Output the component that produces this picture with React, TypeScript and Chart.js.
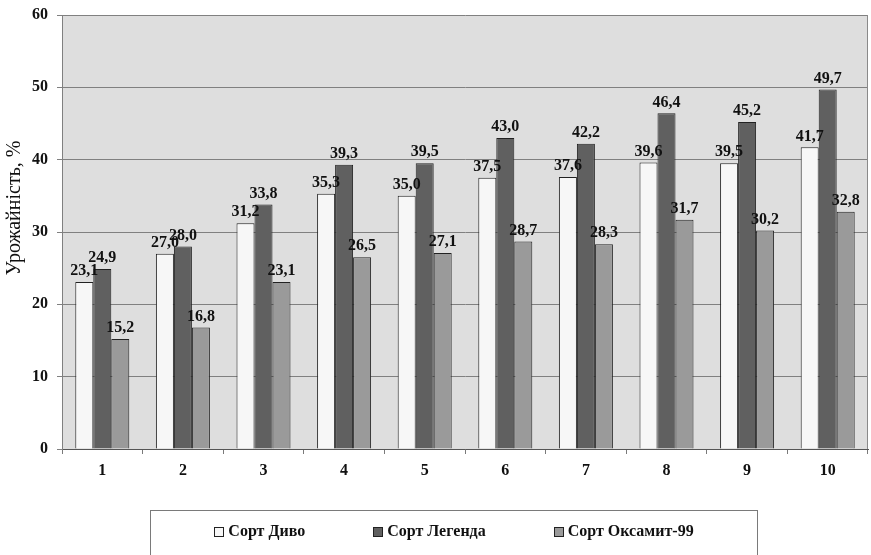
import React, { useEffect, useRef } from "react";
import { Chart, registerables } from "chart.js";

Chart.register(...registerables);

const categories = ["1", "2", "3", "4", "5", "6", "7", "8", "9", "10"];
const seriesNames = ["Сорт Диво", "Сорт Легенда", "Сорт Оксамит-99"];
const divo = [23.1, 27.0, 31.2, 35.3, 35.0, 37.5, 37.6, 39.6, 39.5, 41.7];
const legenda = [24.9, 28.0, 33.8, 39.3, 39.5, 43.0, 42.2, 46.4, 45.2, 49.7];
const oksamyt = [15.2, 16.8, 23.1, 26.5, 27.1, 28.7, 28.3, 31.7, 30.2, 32.8];
const yTitle = "Урожайність, %";

const barColors = ["#f7f7f7", "#606060", "#9a9a9a"];
const SERIF = "'Liberation Serif', 'Times New Roman', serif";

const fmt = (v: number) => v.toFixed(1).replace(".", ",");

// plot background and frame
const plotBackground = {
  id: "plotBackground",
  beforeDraw(chart: any) {
    const { ctx, chartArea: a } = chart;
    ctx.save();
    ctx.fillStyle = "#dedede";
    ctx.fillRect(a.left, a.top, a.right - a.left, a.bottom - a.top);
    ctx.restore();
  },
  afterDraw(chart: any) {
    const { ctx, chartArea: a } = chart;
    ctx.save();
    ctx.strokeStyle = "#8a8a8a";
    ctx.lineWidth = 1;
    ctx.beginPath();
    ctx.moveTo(Math.round(a.right) - 0.5, a.top);
    ctx.lineTo(Math.round(a.right) - 0.5, a.bottom);
    ctx.stroke();
    ctx.restore();
  },
};

// rotated y-axis caption, sitting a little above the axis middle
const yCaption = {
  id: "yCaption",
  afterDraw(chart: any) {
    const { ctx, chartArea: a } = chart;
    ctx.save();
    ctx.font = `20px ${SERIF}`;
    ctx.fillStyle = "#111";
    ctx.textAlign = "center";
    ctx.textBaseline = "middle";
    ctx.translate(15, (a.top + a.bottom) / 2 - 24);
    ctx.rotate(-Math.PI / 2);
    ctx.fillText(yTitle, 0, 0);
    ctx.restore();
  },
};

// value labels above each bar
const valueLabels = {
  id: "valueLabels",
  afterDatasetsDraw(chart: any) {
    const { ctx } = chart;
    ctx.save();
    ctx.font = `bold 16px ${SERIF}`;
    ctx.fillStyle = "#111";
    ctx.textAlign = "center";
    ctx.textBaseline = "bottom";
    chart.data.datasets.forEach((ds: any, di: number) => {
      const meta = chart.getDatasetMeta(di);
      meta.data.forEach((bar: any, i: number) => {
        ctx.fillText(fmt(ds.data[i]), bar.x, bar.y - 3);
      });
    });
    ctx.restore();
  },
};

// boxed legend under the axis
const boxedLegend = {
  id: "boxedLegend",
  afterDraw(chart: any) {
    const { ctx } = chart;
    const boxL = 150.5, boxR = 757.5, boxT = 510.5;
    ctx.save();
    ctx.strokeStyle = "#7a7a7a";
    ctx.lineWidth = 1;
    ctx.strokeRect(boxL, boxT, boxR - boxL, 60);
    ctx.font = `bold 16px ${SERIF}`;
    ctx.textBaseline = "middle";
    ctx.textAlign = "left";
    const sq = 9, sqGap = 5, gap = 68;
    const items = chart.data.datasets.map((ds: any) => ({
      label: ds.label,
      color: ds.backgroundColor,
      w: sq + sqGap + ctx.measureText(ds.label).width,
    }));
    const total = items.reduce((s: number, it: any) => s + it.w, 0) + gap * (items.length - 1);
    let x = (boxL + boxR) / 2 - total / 2;
    const cy = 532;
    items.forEach((it: any) => {
      ctx.fillStyle = it.color;
      ctx.fillRect(Math.round(x) + 0.5, cy - 4.5, sq, sq);
      ctx.strokeStyle = "#222";
      ctx.strokeRect(Math.round(x) + 0.5, cy - 4.5, sq, sq);
      ctx.fillStyle = "#111";
      ctx.fillText(it.label, x + sq + sqGap, cy);
      x += it.w + gap;
    });
    ctx.restore();
  },
};

export default function App() {
  const ref = useRef<HTMLCanvasElement | null>(null);

  useEffect(() => {
    if (!ref.current) return;
    const values = [divo, legenda, oksamyt];
    const chart = new Chart(ref.current, {
      type: "bar",
      data: {
        labels: categories,
        datasets: seriesNames.map((name, i) => ({
          label: name,
          data: values[i],
          backgroundColor: barColors[i],
          borderColor: "#222",
          borderWidth: 1,
          categoryPercentage: 0.67,
          barPercentage: 1,
        })),
      },
      options: {
        responsive: false,
        animation: false,
        layout: { padding: { top: 15, right: 3, left: 0, bottom: 0 } },
        plugins: {
          legend: { display: false },
          tooltip: { enabled: false },
        },
        scales: {
          x: {
            offset: true,
            grid: {
              offset: true,
              drawOnChartArea: false,
              drawTicks: true,
              tickLength: 5,
              color: "#7a7a7a",
            },
            border: { color: "#555", width: 1 },
            ticks: {
              color: "#111",
              font: { family: SERIF, size: 16, weight: "bold" },
              padding: 7,
            },
            afterFit(scale: any) {
              scale.height = 106;
              scale.paddingLeft = 0;
              scale.paddingRight = 0;
            },
          },
          y: {
            min: 0,
            max: 60,
            ticks: {
              stepSize: 10,
              color: "#111",
              font: { family: SERIF, size: 16, weight: "bold" },
              padding: 9,
            },
            grid: {
              color: "#808080",
              tickLength: 5,
            },
            border: { color: "#808080", width: 1 },
            afterFit(scale: any) {
              scale.width = 62;
              scale.paddingTop = 0;
              scale.paddingBottom = 0;
            },
          },
        },
      },
      plugins: [plotBackground, yCaption, valueLabels, boxedLegend],
    });
    return () => chart.destroy();
  }, []);

  return (
    <div style={{ position: "absolute", left: 0, top: 0, width: 871, height: 555, background: "#fff" }}>
      <canvas ref={ref} width={871} height={555} />
    </div>
  );
}
